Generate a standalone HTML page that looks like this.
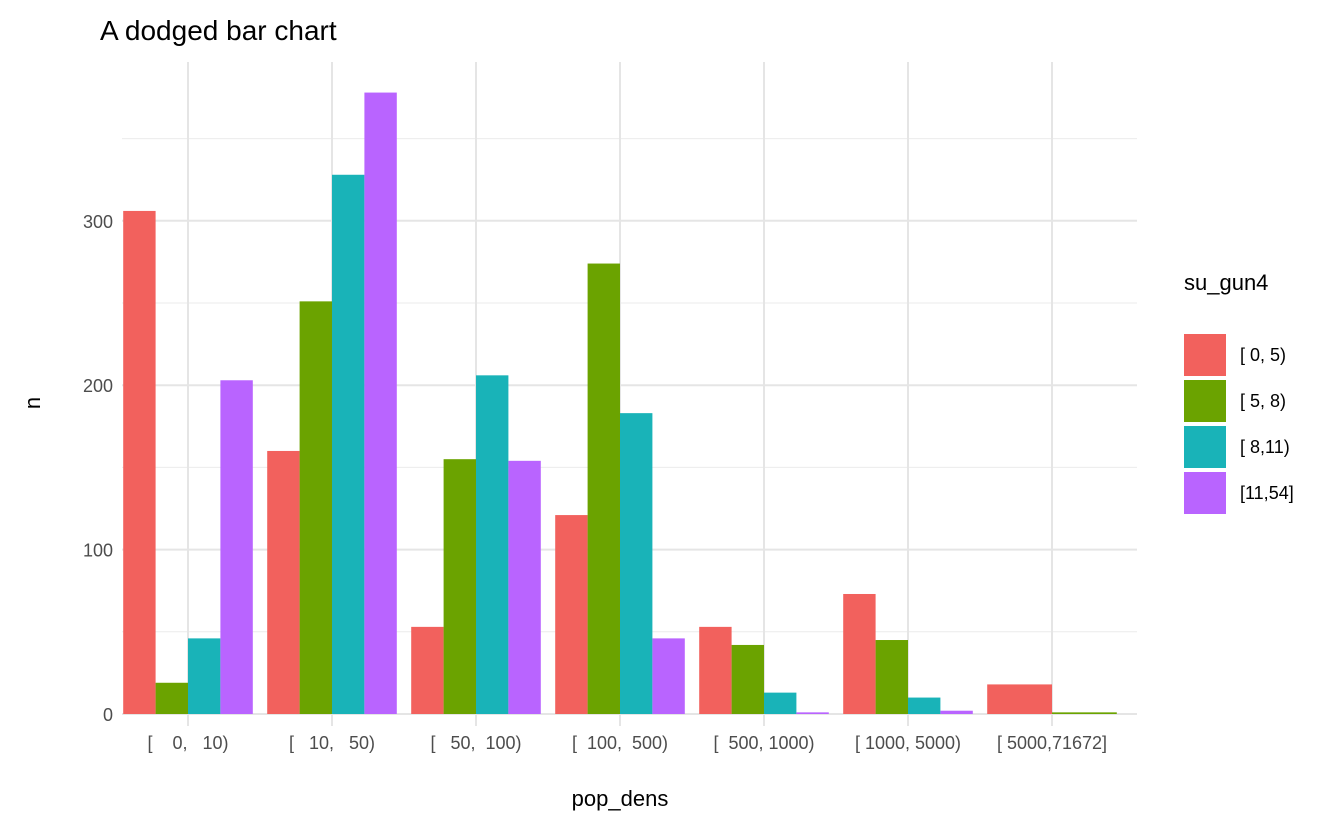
<!DOCTYPE html>
<html><head><meta charset="utf-8"><style>
body{margin:0;background:#fff;font-family:"Liberation Sans",sans-serif;}
svg text{font-family:"Liberation Sans",sans-serif;}
</style></head><body>
<svg id="chart" width="1344" height="830">
<text x="100" y="40" font-size="28" fill="#000">A dodged bar chart</text>
<g id="grid"></g><g id="bars"></g><g id="axes"></g>
<text x="620" y="806" font-size="22" text-anchor="middle" fill="#000">pop_dens</text>
<text transform="translate(40,403) rotate(-90)" font-size="22" text-anchor="middle" fill="#000">n</text>
<g id="legend">
<text x="1184" y="290" font-size="22" fill="#000">su_gun4</text>
</g>
</svg>
<script>
const categories=["[    0,   10)","[   10,   50)","[   50,  100)","[  100,  500)","[  500, 1000)","[ 1000, 5000)","[ 5000,71672]"];
const seriesNames=["[ 0, 5)","[ 5, 8)","[ 8,11)","[11,54]"];
const colors=["#F2615D","#6BA300","#19B3B8","#B964FF"];
const s1=[306,160,53,121,53,73,18];
const s2=[19,251,155,274,42,45,1];
const s3=[46,328,206,183,13,10,null];
const s4=[203,378,154,46,1,2,null];
const yTicks=[0,100,200,300];
const series=[s1,s2,s3,s4];
const NS="http://www.w3.org/2000/svg";
const x0=188,step=144,py0=714,pxPer=1.644,panelTop=62,panelBot=726,panelL=122,panelR=1137;
const y=v=>py0-v*pxPer;
const xc=i=>x0+i*step;
function mk(t,a,p){const e=document.createElementNS(NS,t);for(const k in a)e.setAttribute(k,a[k]);p.appendChild(e);return e;}
const grid=document.getElementById('grid'),bars=document.getElementById('bars'),axes=document.getElementById('axes'),leg=document.getElementById('legend');
for(let v=50;v<=350;v+=100){const l=mk('line',{x1:panelL,x2:panelR,y1:y(v),y2:y(v),stroke:'#EBEBEB','stroke-width':1},grid);
}
yTicks.forEach(v=>{const l=mk('line',{x1:panelL,x2:panelR,y1:y(v),y2:y(v),stroke:'#E5E5E5','stroke-width':2},grid);

const t=mk('text',{x:113,y:y(v)+7,'font-size':18,'text-anchor':'end',fill:'#4D4D4D'},axes);t.textContent=v;
});
categories.forEach((c,i)=>{const l=mk('line',{x1:xc(i),x2:xc(i),y1:panelTop,y2:panelBot,stroke:'#E5E5E5','stroke-width':2},grid);

const t=mk('text',{x:xc(i),y:749,'font-size':18,'text-anchor':'middle',fill:'#4D4D4D'},axes);t.textContent=c;t.style.whiteSpace='pre';

const present=[];series.forEach((s,k)=>{if(s[i]!=null)present.push(k);});
const gw=step*0.9,bw=gw/present.length;
present.forEach((k,j)=>{const v=series[k][i];const r=mk('rect',{x:xc(i)-gw/2+j*bw,y:y(v),width:bw,height:v*pxPer,fill:colors[k]},bars);
});});
seriesNames.forEach((n,k)=>{const r=mk('rect',{x:1184,y:334+k*46,width:42,height:42,fill:colors[k]},leg);

const t=mk('text',{x:1240,y:361+k*46,'font-size':18,fill:'#000'},leg);t.textContent=n;t.style.whiteSpace='pre';
});
</script>
</body></html>
